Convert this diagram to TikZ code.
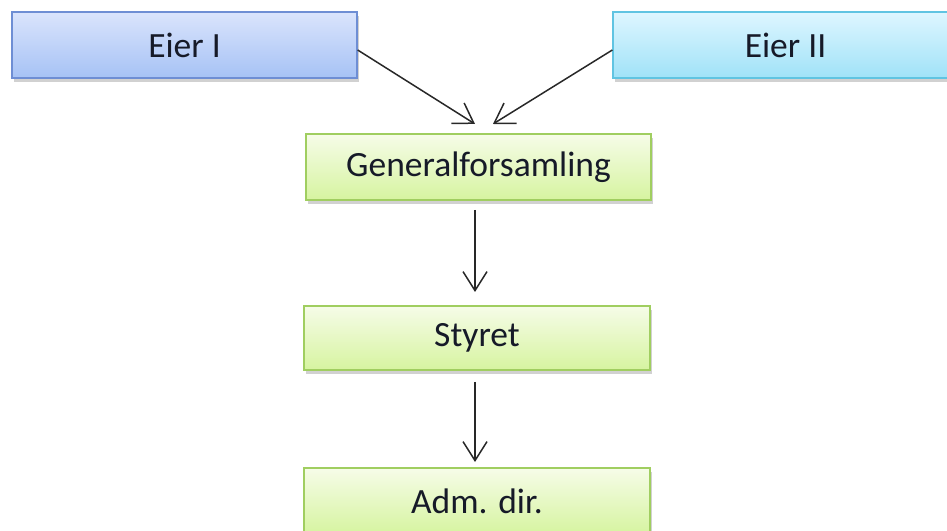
\documentclass[tikz,border=0pt]{standalone}
\usepackage{fontspec}
\setmainfont{Carlito}
\usetikzlibrary{arrows.meta,shadows}
\definecolor{txt}{RGB}{22,26,40}
\definecolor{blueT}{RGB}{218,228,252}
\definecolor{blueB}{RGB}{166,194,245}
\definecolor{blueD}{RGB}{110,142,212}
\definecolor{cyanT}{RGB}{222,246,255}
\definecolor{cyanB}{RGB}{160,226,248}
\definecolor{cyanD}{RGB}{96,196,226}
\definecolor{greenT}{RGB}{246,252,232}
\definecolor{greenB}{RGB}{214,244,160}
\definecolor{greenD}{RGB}{160,206,96}
\definecolor{arr}{RGB}{40,40,40}
\tikzset{
  box/.style={rectangle, minimum width=345pt, minimum height=66pt, inner sep=0pt,
    line width=1.3pt, text=txt, font=\fontsize{35.5}{40}\selectfont,
    drop shadow={shadow xshift=2pt, shadow yshift=-4pt, opacity=0.3, fill=black!60}},
  bluebox/.style={box, draw=blueD, top color=blueT, bottom color=blueB},
  cyanbox/.style={box, draw=cyanD, top color=cyanT, bottom color=cyanB},
  greenbox/.style={box, draw=greenD, top color=greenT, bottom color=greenB},
  link/.style={draw=arr, line width=1.5pt, -{Straight Barb[length=19pt, width=24pt, line width=1.5pt]}}
}
\begin{document}
\begin{tikzpicture}[x=1pt,y=1pt]
\useasboundingbox (0,0) rectangle (947,530);
\node[bluebox] (e1) at (184.5,485) {Eier I};
\node[cyanbox] (e2) at (785.5,485) {Eier II};
\node[greenbox] (gen) at (478.5,363) {\raisebox{-2pt}{Generalforsamling}};
\node[greenbox, minimum width=346pt, minimum height=64pt] (sty) at (477,192) {\raisebox{-2pt}{Styret}};
\node[greenbox, minimum width=346pt] (adm) at (477,29) {Adm. dir.};
\coordinate (t1) at (475,406);
\coordinate (t2) at (493,406);
\coordinate (s1) at (475,320);
\coordinate (g1) at (475,238);
\coordinate (s2) at (475,148);
\coordinate (g2) at (475,68);
\draw[link] ([yshift=-5pt]e1.east) -- (t1);
\draw[link] ([yshift=-5pt]e2.west) -- (t2);
\draw[link] (s1) -- (g1);
\draw[link] (s2) -- (g2);
\end{tikzpicture}
\end{document}
